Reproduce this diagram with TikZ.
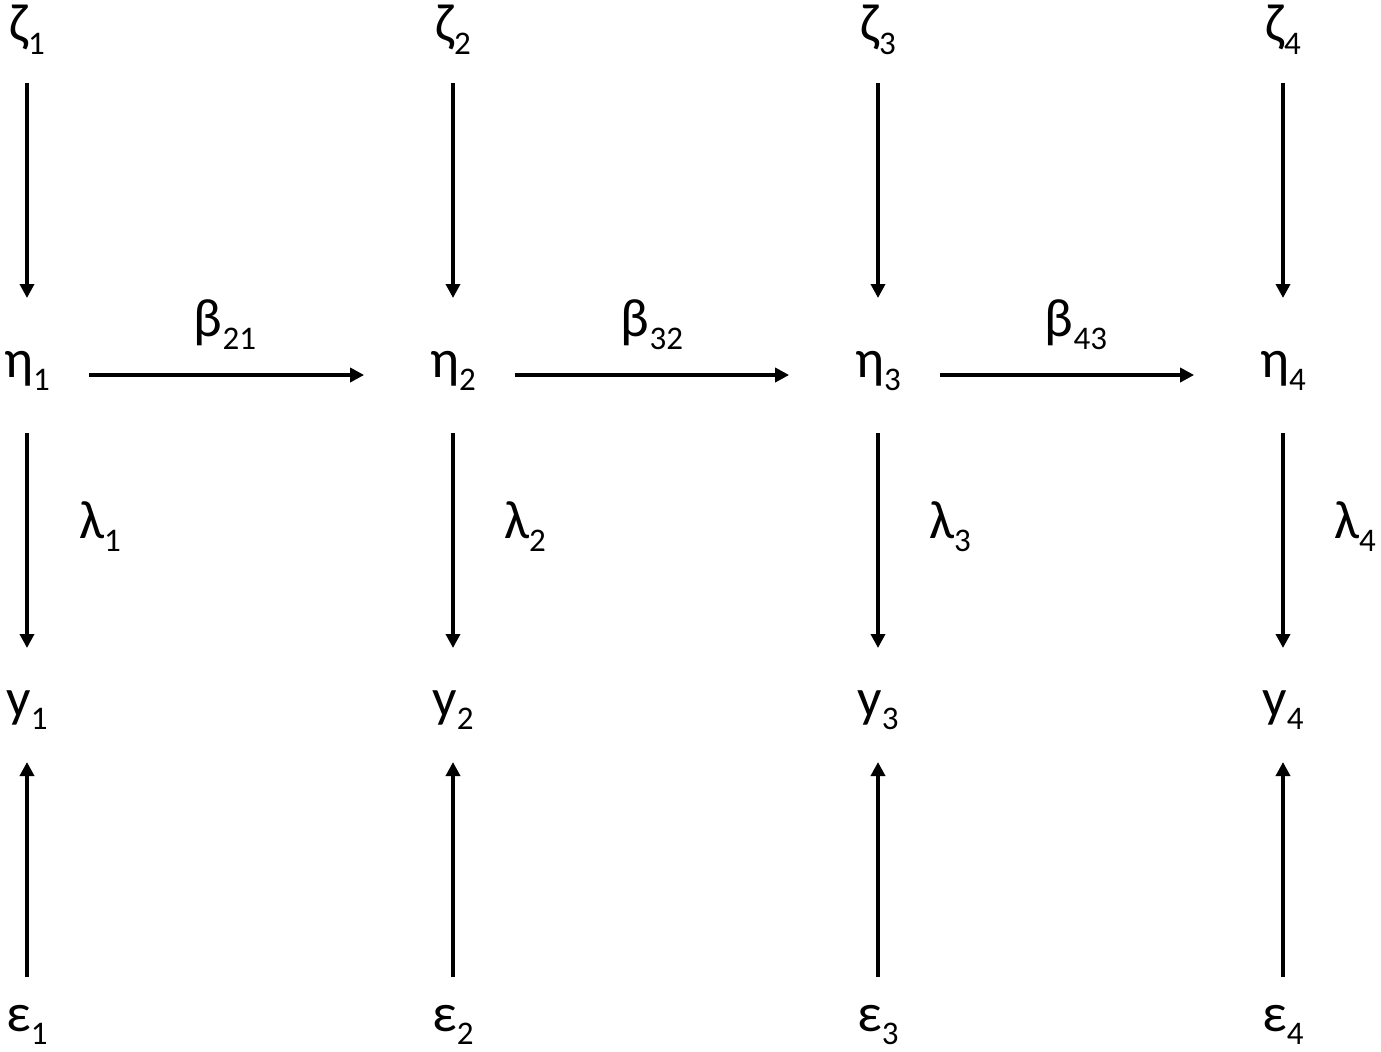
\documentclass[tikz,border=0pt]{standalone}
\usepackage{fontspec}
\setmainfont{Carlito}
\usetikzlibrary{arrows.meta}

% letter with lowered index
\newcommand{\subIdx}[2]{#1\raisebox{-6.5pt}{\fontsize{16.5}{16.5}\selectfont #2}}

\begin{document}
\begin{tikzpicture}[x=0.5pt, y=-0.5pt,
    var/.style={inner sep=0pt, outer sep=0pt, anchor=base, text height=39.5pt, text depth=21pt, font=\fontsize{27}{27}\selectfont},
    coef/.style={inner sep=0pt, anchor=base, font=\fontsize{27}{27}\selectfont},
    arr/.style={line width=2.2pt, -{Triangle[length=7pt,width=7pt]}}]

    \useasboundingbox (0,0) rectangle (1381,1051);

    % variables and vertical paths
    \foreach \i/\x/\lx in {1/27/100, 2/453/525, 3/878/950, 4/1283/1355} {
        \node[var] (zeta\i) at (\x,41) {\subIdx{ζ}{\i}};
        \node[var] (eta\i) at (\x,377) {\subIdx{η}{\i}};
        \node[var] (y\i) at (\x,716) {\subIdx{y}{\i}};
        \node[var] (eps\i) at (\x,1031) {\subIdx{ε}{\i}};
        \node[coef] (lambda\i) at (\lx,538) {\subIdx{λ}{\i}};

        \draw[arr] (zeta\i) -- (eta\i);
        \draw[arr, shorten <=7pt, shorten >=-5.5pt] (eta\i) -- (y\i);
        \draw[arr, shorten <=-12.5pt, shorten >=2pt] (eps\i) -- (y\i);
    }

    % structural paths
    \foreach \i/\j/\bx in {1/2/225, 2/3/652, 3/4/1076} {
        \node[coef] (beta\j\i) at (\bx,336) {\subIdx{β}{\j\i}};
        \draw[arr, shorten <=19.5pt, shorten >=33pt] ([yshift=1pt]eta\i.base east) -- ([yshift=1pt]eta\j.base west);
    }

\end{tikzpicture}
\end{document}
